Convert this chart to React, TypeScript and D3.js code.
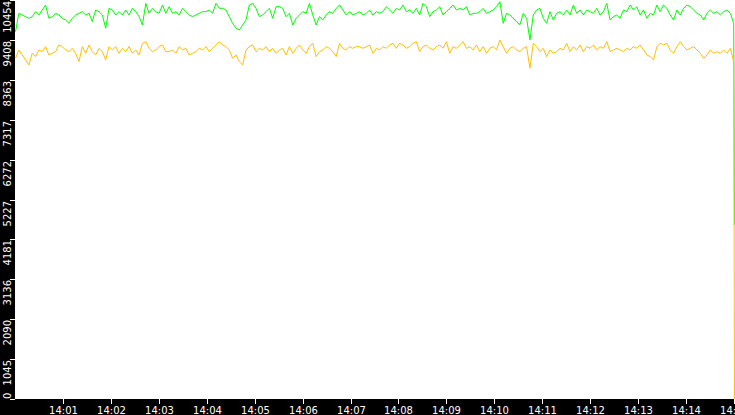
import * as d3 from 'd3';

const WIDTH = 735;
const HEIGHT = 415;
const PLOT_LEFT = 15;
const PLOT_RIGHT = 734;
const PLOT_BOTTOM = 399;

// y axis tick values as printed on the chart
const yTickValues = [0, 1045, 2090, 3136, 4181, 5227, 6272, 7317, 8363, 9408, 10454];
const yMax = 10454;

// time window 14:00 - 14:15, samples
const startTime = new Date(2000, 0, 1, 14, 0, 0);
const endTime = new Date(2000, 0, 1, 14, 15, 0);

const greenValues = [
  9625, 10105, 10061, 10017, 9974, 10017, 10148, 10061, 10192, 10323,
  9974, 10017, 10105, 10061, 9974, 9930, 9843, 9974, 10061, 10105,
  10148, 10061, 10105, 9887, 10192, 10148, 10061, 9712, 10236, 10192,
  10061, 10148, 10061, 10192, 10061, 10236, 10148, 10017, 9799, 10367,
  10105, 10236, 10148, 10105, 10323, 10105, 10279, 10105, 10148, 10061,
  10236, 10148, 10061, 10017,
  10061, 10105, 10148, 10148, 10192, 10105, 10367, 10236, 10236, 10192,
  10017, 9843, 9712, 9668, 9799, 9930, 10323, 10367, 10236, 10017,
  10061, 10148, 10236, 9974, 10279, 10279, 10236, 10017, 10105, 9799,
  9974, 10061, 10148, 10105, 10367, 10061, 9799, 10017, 9930, 10061,
  10148, 10105, 10236, 10323, 10192, 10061, 10148, 10061, 10105, 10148,
  10061, 10105, 10192, 10061,
  10148, 10105, 10148, 10279, 10192, 10105, 10236, 10192, 10323, 10148,
  10192, 10105, 10236, 10061, 10367, 10279, 10017, 10148, 10192, 10279,
  10061, 10148, 10236, 10323, 10192, 10236, 10192, 10279, 10061, 10105,
  10105, 10148, 10236, 10105, 10148, 10192, 10279, 10410, 9843, 10105,
  10061, 9974, 9887, 9799, 10105, 9974, 9406, 10061, 10192, 10236,
  9974, 9843, 10148, 9930,
  10105, 10148, 10061, 10192, 10061, 10323, 10105, 10192, 10061, 10192,
  10148, 10105, 10236, 10061, 10148, 10367, 9930, 10017, 10061, 9974,
  10192, 10148, 10323, 10192, 10279, 10061, 10192, 9974, 10105, 10061,
  10323, 10148, 10323, 10236, 10061, 9930, 10192, 10061, 10236, 10323,
  10279, 10192, 10105, 10061, 9930, 10105, 10192, 10105, 10148, 10061,
  10148, 10192, 10105, 9843,
];

const yellowValues = [
  8926, 9145, 9014, 8883, 8752, 9057, 8970, 9145, 9101, 9232,
  9014, 9057, 9101, 9276, 9232, 9145, 9101, 9188, 9057, 8839,
  9232, 9057, 9276, 9101, 9014, 9188, 9101, 8883, 9232, 9145,
  9232, 9057, 9188, 9101, 9232, 9057, 9145, 9014, 9319, 9363,
  9188, 9101, 9145, 9232, 9276, 9101, 9101, 9145, 9057, 9232,
  9145, 9188, 9014, 9057,
  9101, 9188, 9145, 9232, 9101, 9188, 9276, 9363, 9276, 9232,
  9145, 8926, 9014, 8839, 8752, 9145, 9232, 9276, 9101, 9188,
  9145, 9232, 9101, 9188, 9057, 9145, 9188, 9014, 9232, 9057,
  9188, 9276, 9145, 9057, 9232, 9319, 8970, 9101, 9145, 9232,
  9188, 9101, 8970, 9319, 9188, 9145, 9232, 9188, 9232, 9232,
  9188, 9232, 9276, 9057,
  9188, 9145, 9232, 9188, 9276, 9319, 9188, 9319, 9276, 9188,
  9232, 9319, 9363, 9101, 9232, 9276, 9188, 9145, 9232, 9276,
  9188, 9363, 9057, 9232, 9188, 9276, 9363, 9188, 9232, 9145,
  9276, 9101, 9232, 9057, 9188, 9232, 9145, 9406, 9232, 9057,
  9188, 9232, 9145, 9101, 9188, 9232, 8665, 9319, 9232, 9101,
  9188, 8970, 9145, 9057,
  9101, 9188, 9145, 9319, 9101, 9232, 9145, 9276, 9101, 9232,
  9188, 9276, 9145, 9232, 9188, 9363, 9101, 9145, 9188, 9145,
  9101, 9188, 9145, 9232, 9188, 9276, 9145, 9014, 8970, 8883,
  9232, 9319, 9276, 9319, 9145, 9057, 9232, 9363, 9232, 9145,
  9188, 9232, 9145, 9057, 8926, 9014, 9145, 9057, 9101, 9057,
  9145, 9057, 9188, 8839,
];

// the last reading at 14:15 where both series fall away
const greenLast = 4560;
const yellowLast = 0;

type Point = { t: Date; v: number };

function toSeries(values: number[], last: number): Point[] {
  // regular samples from 14:00 up to a second before the final reading
  const span = endTime.getTime() - startTime.getTime() - 1000;
  const stepMs = span / (values.length - 1);
  const pts = values.map((v, i) => ({ t: new Date(startTime.getTime() + i * stepMs), v }));
  pts.push({ t: endTime, v: last });
  return pts;
}

export default function App() {
  const x = d3.scaleTime().domain([startTime, endTime]).range([PLOT_LEFT, PLOT_RIGHT]);
  const y = d3.scaleLinear().domain([0, yMax]).range([PLOT_BOTTOM, 0]);

  const line = d3
    .line<Point>()
    .x((d) => x(d.t))
    .y((d) => y(d.v));

  const green = toSeries(greenValues, greenLast);
  const yellow = toSeries(yellowValues, yellowLast);

  const xTicks = x.ticks(d3.timeMinute.every(1)!).filter((t) => t > startTime);
  const fmt = d3.timeFormat('%H:%M');

  return (
    <div style={{ position: 'fixed', left: 0, top: 0 }}>
      <svg width={WIDTH} height={HEIGHT} style={{ display: 'block' }}>
        <rect x={0} y={0} width={WIDTH} height={HEIGHT} fill="#000" />
        <rect x={PLOT_LEFT} y={0} width={WIDTH - PLOT_LEFT} height={PLOT_BOTTOM} fill="#fff" />

        {/* y axis */}
        <g fontFamily="DejaVu Sans" fontSize={10} fill="#fff">
          {yTickValues.map((v) => {
            const ty = Math.round(y(v));
            const isZero = v === 0;
            return (
              <g key={v}>
                <line x1={10} x2={PLOT_LEFT} y1={ty + 0.5} y2={ty + 0.5} stroke="#fff" strokeWidth={1} />
                <text
                  transform={`translate(10.5, ${isZero ? ty : Math.max(ty, 0) + 1}) rotate(-90)`}
                  textAnchor={isZero ? 'start' : 'end'}
                >
                  {v}
                </text>
              </g>
            );
          })}
        </g>

        {/* x axis */}
        <g fontFamily="DejaVu Sans" fontSize={10} fill="#fff">
          {xTicks.map((t) => {
            const tx = Math.round(x(t));
            return (
              <g key={t.getTime()}>
                <line x1={tx + 0.5} x2={tx + 0.5} y1={PLOT_BOTTOM} y2={PLOT_BOTTOM + 5} stroke="#fff" strokeWidth={1} />
                <text x={tx + 0.5} y={414} textAnchor="middle">
                  {fmt(t)}
                </text>
              </g>
            );
          })}
        </g>

        {/* series, nudged half a pixel so the final drop lands on the last column */}
        <g transform="translate(0.5, 0)">
          <path d={line(green) ?? ''} fill="none" stroke="#00ff00" strokeWidth={1} />
          <path d={line(yellow) ?? ''} fill="none" stroke="#ffc000" strokeWidth={1} />
        </g>
      </svg>
    </div>
  );
}
